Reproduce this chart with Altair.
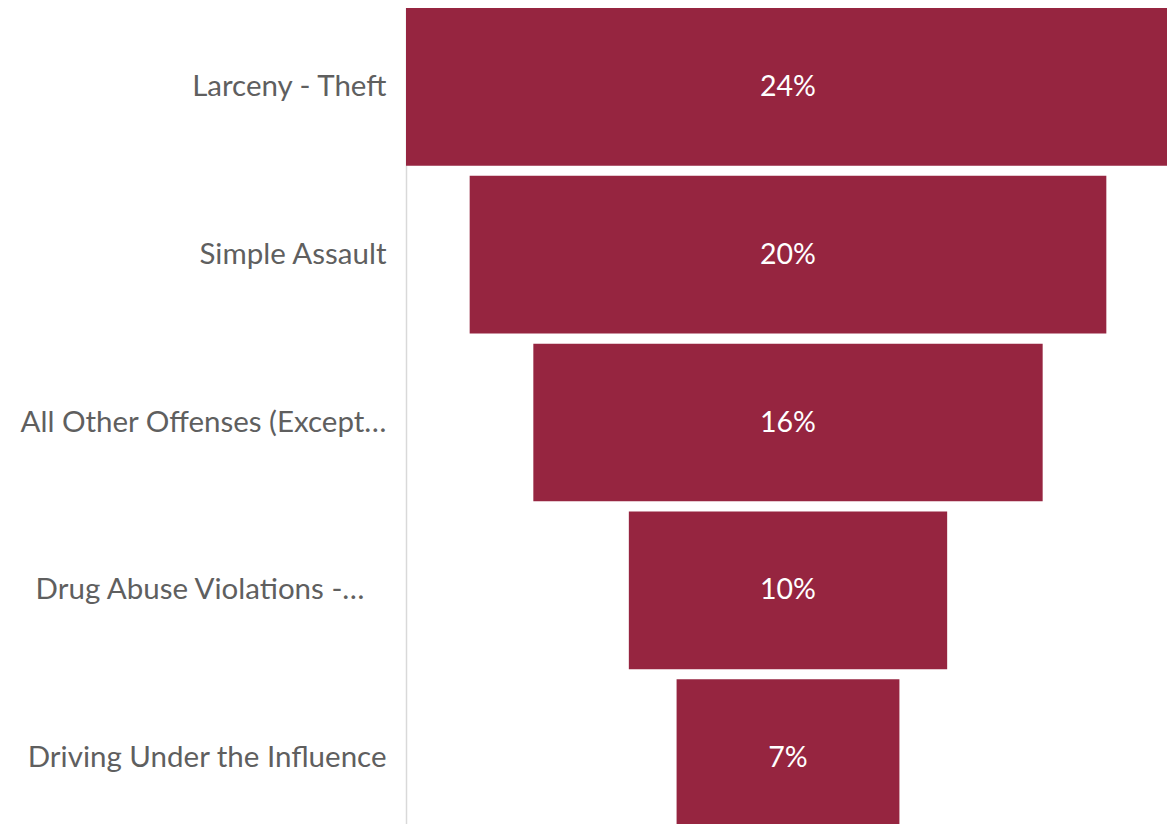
import altair as alt
import pandas as pd

categories = [
    "Larceny - Theft",
    "Simple Assault",
    "All Other Offenses (Except…",
    "Drug Abuse Violations -…\u2800",
    "Driving Under the Influence",
]
values = [24, 20, 16, 10, 7]

df = pd.DataFrame({"category": categories, "value": values})

bar_color = "#962540"
label_color = "#5f5f5f"
font = "Lato"

y_enc = alt.Y(
    "category:N",
    sort=categories,
    scale=alt.Scale(range=[-5, 834], paddingInner=0.06, paddingOuter=0.03),
    axis=alt.Axis(
        title=None,
        ticks=False,
        domainColor="#d9d9d9",
        domainWidth=1.5,
        labelFont=font,
        labelFontSize=29.5,
        labelColor=label_color,
        labelPadding=20,
        labelLimit=0,
        grid=False,
    ),
)

x_scale = alt.Scale(domain=[-12, 12], range=[0, 764], nice=False, zero=False)

base = alt.Chart(df).transform_calculate(
    lo="-datum.value/2",
    hi="datum.value/2",
    zero="0",
    label="datum.value + '%'",
)

bars = base.mark_bar(color=bar_color).encode(
    y=y_enc,
    x=alt.X("lo:Q", scale=x_scale, axis=None),
    x2="hi:Q",
)

text = base.mark_text(color="white", font=font, fontSize=28.5, baseline="middle").encode(
    y=y_enc,
    x=alt.X("zero:Q", scale=x_scale, axis=None),
    text="label:N",
)

chart = (
    alt.layer(bars, text)
    .properties(
        width=761,
        height=816,
        padding={"left": 398, "top": 0, "right": 0, "bottom": 0},
        autosize=alt.AutoSizeParams(type="none"),
    )
    .configure_view(stroke=None)
)

chart.save("out.html", embed_options={"renderer": "svg", "actions": False})
